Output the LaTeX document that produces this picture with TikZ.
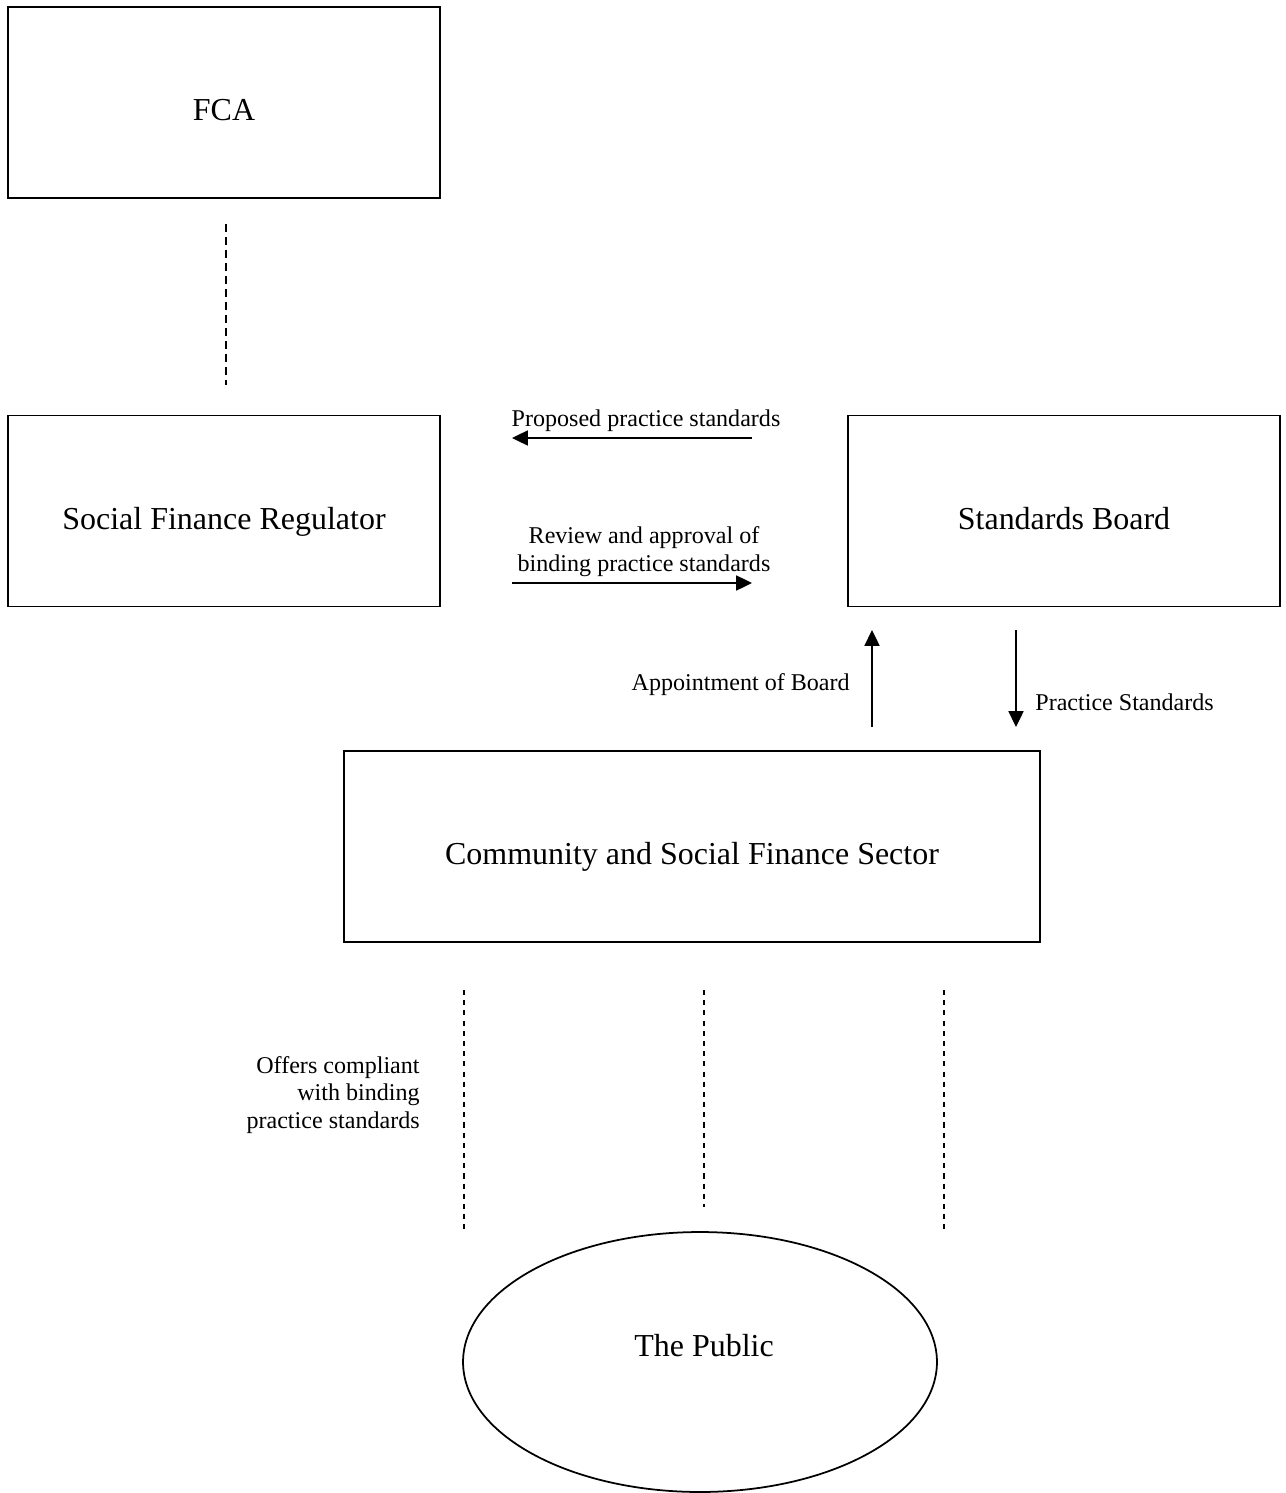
\documentclass[tikz,border=0pt]{standalone}
\usepackage{fontspec}
\setmainfont{Liberation Serif}
\usepackage{tikz}
\usetikzlibrary{calc}
\usetikzlibrary{arrows.meta,shapes.geometric}

\begin{document}
\begin{tikzpicture}[
  x=0.02cm,y=-0.02cm,
  line join=miter,
  >={Triangle[length=9pt,width=8.5pt]},
  box/.style={draw,line width=1.1pt,minimum width=8.64cm,minimum height=3.82cm,
    inner sep=0pt,text height=20.8pt,text depth=0pt,font=\fontsize{18.2}{21}\selectfont},
  flow/.style={->,line width=1.1pt},
  link/.style={line width=1pt,dash pattern=on 4.5pt off 2.9pt},
  offer/.style={line width=1pt,dash pattern=on 2.9pt off 2.9pt},
  note/.style={font=\fontsize{13.7}{15.6}\selectfont,inner sep=0pt}
]
  \useasboundingbox (0,0) rectangle (1285,1493);

  % Boxes
  \node[box] (fca) at (224,102.5) {FCA};
  \node[box] (sfr) at (224,511) {Social Finance Regulator};
  \node[box] (sb)  at (1064,511) {Standards Board};
  \node[box,minimum width=13.92cm] (csfs) at (692,846.5) {Community and Social Finance Sector};

  % The public
  \node[ellipse,draw,line width=1pt,minimum width=9.48cm,minimum height=5.2cm] (pub) at (700,1362) {};
  \node[font=\fontsize{18.2}{21}\selectfont,anchor=base] (pubtxt) at (704,1356) {The Public};

  % Arrow ends
  \coordinate (propA) at (752,438);
  \coordinate (propB) at (512,438);
  \coordinate (revA) at (512,583);
  \coordinate (revB) at (752,583);
  \coordinate (appA) at (872,727);
  \coordinate (appB) at (872,630);
  \coordinate (pracA) at (1016,630);
  \coordinate (pracB) at (1016,727);

  \draw[flow] (propA) -- (propB);
  \draw[flow] (revA) -- (revB);
  \draw[flow] (appA) -- (appB);
  \draw[flow] (pracA) -- (pracB);

  % Dotted links
  \coordinate (fcaA) at (226,224);
  \coordinate (fcaB) at (226,385);
  \draw[link] (fcaA) -- (fcaB);
  \coordinate (offA) at (464,990);
  \coordinate (offB) at (464,1231);
  \coordinate (offC) at (704,990);
  \coordinate (offD) at (704,1207);
  \coordinate (offE) at (944,990);
  \coordinate (offF) at (944,1231);
  \draw[offer] (offA) -- (offB);
  \draw[offer] (offC) -- (offD);
  \draw[offer] (offE) -- (offF);

  % Labels
  \node[note,anchor=base] (propL) at (646,426) {Proposed practice standards};
  \node[note,anchor=base,align=center] (revL) at (644,571)
    {Review and approval of\\binding practice standards};
  \node[note,anchor=base east] (appL) at (850,690) {Appointment of Board};
  \node[note,anchor=base west] (pracL) at (1035,710) {Practice Standards};
  \node[note,anchor=north east,align=right] (offL) at (420,1056)
    {Offers compliant\\with binding\\practice standards};
\end{tikzpicture}
\end{document}
